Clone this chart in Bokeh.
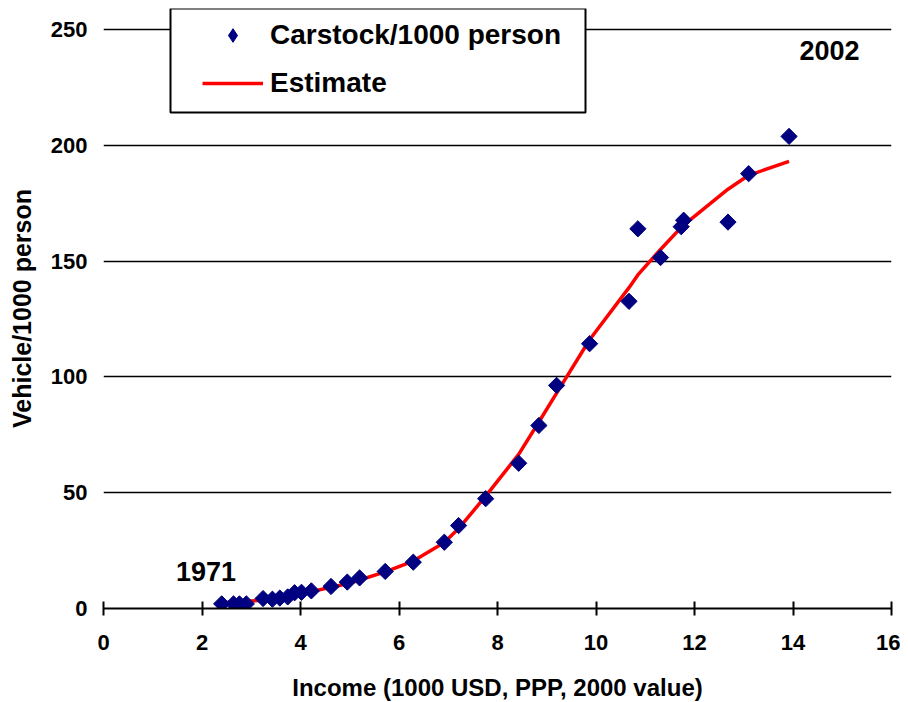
import numpy as np
from bokeh.plotting import figure
from bokeh.models import (Legend, LegendItem, Label, BoxAnnotation, Range1d,
                          FixedTicker, ColumnDataSource)
from bokeh.embed import file_html
from bokeh.resources import INLINE

# ---- data ----
income = [2.40, 2.64, 2.76, 2.90, 3.24, 3.43, 3.58, 3.74, 3.88, 4.02, 4.22,
          4.62, 4.95, 5.20, 5.72, 6.29, 6.92, 7.21, 7.76, 8.43, 8.84, 9.20,
          9.87, 10.67, 10.85, 11.31, 11.73, 11.78, 12.68, 13.10, 13.92]
carstock = [2.0, 2.0, 2.0, 2.0, 4.3, 4.0, 4.5, 5.0, 6.8, 7.0, 7.6,
            9.5, 11.4, 13.2, 16.0, 20.0, 28.6, 35.8, 47.4, 62.7, 79.0, 96.3,
            114.3, 132.6, 163.9, 151.5, 164.8, 167.6, 166.8, 187.7, 203.8]
estimate = [2.5, 2.8, 3.0, 3.1, 3.6, 4.0, 4.4, 5.0, 5.6, 6.3, 7.3,
            9.2, 10.7, 12.3, 15.8, 20.5, 28.5, 34.5, 48.5, 66.5, 80.5, 93.0,
            116.0, 138.5, 144.0, 155.0, 164.5, 165.5, 181.0, 187.0, 193.0]

x_ticks = [0, 2, 4, 6, 8, 10, 12, 14, 16]
y_ticks = [0, 50, 100, 150, 200, 250]

year_labels = ["1971", "2002"]
year_label_x = [2.08, 14.74]
year_label_y = [16.0, 241.0]

series_names = ["Carstock/1000 person", "Estimate"]
x_title = "Income (1000 USD, PPP, 2000 value)"
y_title = "Vehicle/1000 person"

FONT = "Liberation Sans"

p = figure(frame_width=788, frame_height=600,
           x_range=Range1d(0, 16), y_range=Range1d(0, 259),
           output_backend="svg", toolbar_location=None,
           min_border_left=103, min_border_right=9, min_border_top=8,
           min_border_bottom=92)
p.outline_line_color = None
p.background_fill_color = "white"
p.border_fill_color = "white"

src = ColumnDataSource(dict(x=income, y=carstock, est=estimate))
line_r = p.line("x", "est", source=src, line_color="#FF0000", line_width=3.5)
# diamond-shaped renderer used for the legend swatch (hidden under the data marks)
legend_pts = p.scatter("x", "y", source=src, marker="diamond", size=12,
                       fill_color="#000080", line_color="#000080")
pts_r = p.scatter("x", "y", source=src, marker="square", angle=np.pi / 4, size=11.5,
                  fill_color="#000080", line_color="#000080")

# axes
xa = p.xaxis[0]
xa.ticker = FixedTicker(ticks=x_ticks)
xa.axis_line_color = "black"
xa.axis_line_width = 2
xa.major_tick_line_color = "black"
xa.major_tick_line_width = 2
xa.major_tick_in = 7
xa.major_tick_out = 7
xa.minor_tick_line_color = None
xa.major_label_text_font = FONT
xa.major_label_text_font_style = "bold"
xa.major_label_text_font_size = "22px"
xa.major_label_text_color = "black"
xa.major_label_standoff = 19
xa.axis_label = x_title
xa.axis_label_text_font = FONT
xa.axis_label_text_font_style = "bold"
xa.axis_label_text_font_size = "24px"
xa.axis_label_text_color = "black"
xa.axis_label_standoff = 21

ya = p.yaxis[0]
ya.ticker = FixedTicker(ticks=y_ticks)
ya.axis_line_color = None
ya.major_tick_line_color = None
ya.minor_tick_line_color = None
ya.major_tick_in = 0
ya.major_tick_out = 0
ya.major_label_text_font = FONT
ya.major_label_text_font_style = "bold"
ya.major_label_text_font_size = "22px"
ya.major_label_text_color = "black"
ya.major_label_standoff = 16
ya.axis_label = y_title
ya.axis_label_text_font = FONT
ya.axis_label_text_font_style = "bold"
ya.axis_label_text_font_size = "25px"
ya.axis_label_text_color = "black"
ya.axis_label_standoff = 12

p.xgrid.visible = False
p.ygrid.ticker = FixedTicker(ticks=y_ticks)
p.ygrid.grid_line_color = "black"
p.ygrid.grid_line_width = 1.5

# year annotations
for t, lx, ly in zip(year_labels, year_label_x, year_label_y):
    p.add_layout(Label(x=lx, y=ly, text=t, text_align="center", text_baseline="middle",
                       text_font=FONT, text_font_style="bold", text_font_size="27px",
                       text_color="black"))

# legend frame
box = BoxAnnotation(left=67, right=482, top=600, bottom=496,
                    left_units="screen", right_units="screen",
                    top_units="screen", bottom_units="screen",
                    fill_color="white", fill_alpha=1.0,
                    line_color="black", line_width=2, line_alpha=1.0)
p.add_layout(box)

legend = Legend(items=[LegendItem(label=series_names[0], renderers=[legend_pts]),
                       LegendItem(label=series_names[1], renderers=[line_r])],
                location=(99, 505), padding=0, spacing=8, margin=0,
                glyph_width=61, glyph_height=34, label_height=40, label_standoff=7,
                label_text_font=FONT, label_text_font_style="bold",
                label_text_font_size="28px", label_text_color="black",
                border_line_alpha=0, background_fill_alpha=0)
p.add_layout(legend)

open("out.html", "w").write(file_html(p, INLINE))
